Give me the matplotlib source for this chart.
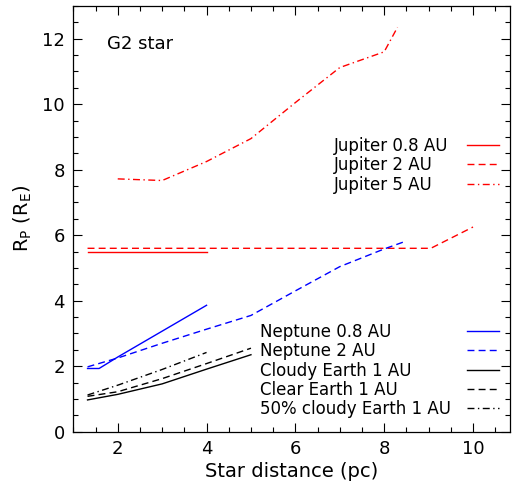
import matplotlib
matplotlib.use("Agg")
import matplotlib.pyplot as plt
from matplotlib.lines import Line2D
from matplotlib.ticker import MultipleLocator

plt.rcParams['font.family'] = ['DejaVu Sans']

# planet radius (R_E) versus star distance (pc), G2 star
jup08_d = [1.32, 4.0]
jup08_r = [5.5, 5.5]
jup2_d = [1.32, 9.05, 10.0]
jup2_r = [5.6, 5.6, 6.25]
jup5_d = [2.0, 3.0, 4.0, 5.0, 6.0, 7.0, 8.0, 8.3]
jup5_r = [7.72, 7.67, 8.25, 8.95, 10.05, 11.12, 11.6, 12.35]
nep08_d = [1.32, 1.58, 2.0, 3.0, 4.0]
nep08_r = [1.93, 1.93, 2.28, 3.07, 3.86]
nep2_d = [1.32, 2.0, 3.0, 4.0, 5.0, 6.0, 7.0, 8.0, 8.45]
nep2_r = [1.98, 2.25, 2.7, 3.13, 3.55, 4.3, 5.04, 5.58, 5.8]
cloudy_d = [1.32, 2.0, 3.0, 4.0, 5.0]
cloudy_r = [0.97, 1.14, 1.46, 1.91, 2.35]
clear_d = [1.32, 2.0, 3.0, 4.0, 5.0]
clear_r = [1.08, 1.22, 1.62, 2.08, 2.55]
half_d = [1.32, 2.0, 3.0, 4.0]
half_r = [1.12, 1.42, 1.9, 2.42]

lw = 1.0
solid = None
dash = (5, 3)
dashdot = (5, 2.5, 1, 2.5)

# (x, y, colour, dash pattern, label)
giants = [
    (jup08_d, jup08_r, "red", solid, "Jupiter 0.8 AU"),
    (jup2_d, jup2_r, "red", dash, "Jupiter 2 AU"),
    (jup5_d, jup5_r, "red", dashdot, "Jupiter 5 AU"),
]
small = [
    (nep08_d, nep08_r, "blue", solid, "Neptune 0.8 AU"),
    (nep2_d, nep2_r, "blue", dash, "Neptune 2 AU"),
    (cloudy_d, cloudy_r, "black", solid, "Cloudy Earth 1 AU"),
    (clear_d, clear_r, "black", dash, "Clear Earth 1 AU"),
    (half_d, half_r, "black", dashdot, "50% cloudy Earth 1 AU"),
]

fig = plt.figure(figsize=(5.15, 4.9), dpi=100)
ax = fig.add_axes([0.1424, 0.119, 0.8476, 0.8688])


def style(line, dashes):
    if dashes is not None:
        line.set_dashes(dashes)


for d, r, c, ds, lab in giants + small:
    ln, = ax.plot(d, r, color=c, lw=lw, label=lab)
    style(ln, ds)

ax.set_xlim(1.0, 10.83)
ax.set_ylim(0, 13)
ax.xaxis.set_major_locator(MultipleLocator(2))
ax.xaxis.set_minor_locator(MultipleLocator(0.5))
ax.yaxis.set_major_locator(MultipleLocator(2))
ax.yaxis.set_minor_locator(MultipleLocator(0.5))
ax.tick_params(which="both", direction="in", top=True, right=True, width=0.8,
               labelsize=13)
ax.tick_params(which="major", length=6.5, pad=6)
ax.tick_params(which="minor", length=3.3)
for s in ax.spines.values():
    s.set_linewidth(0.9)

ax.set_xlabel("Star distance (pc)", fontsize=14, labelpad=3)
ax.set_ylabel(r"R$_\mathregular{P}$ (R$_\mathregular{E}$)", fontsize=14, labelpad=6)

ax.text(0.077, 0.911, "G2 star", transform=ax.transAxes, fontsize=13,
        ha="left", va="center")


# IDL-style key: left-aligned labels, line samples in a column on the right
def key(series, x_text, y_top, step=0.0453):
    for i, (_, _, c, ds, lab) in enumerate(series):
        y = y_top - i * step
        ax.text(x_text, y - 0.0143, lab, transform=ax.transAxes,
                fontsize=12, ha="left", va="baseline")
        sample = Line2D([0.901, 0.9755], [y, y], transform=ax.transAxes,
                        color=c, lw=lw, clip_on=False)
        style(sample, ds)
        ax.add_line(sample)


key(giants, 0.597, 0.6735)
key(small, 0.4275, 0.2365)

fig.savefig("out.png", dpi=100)
